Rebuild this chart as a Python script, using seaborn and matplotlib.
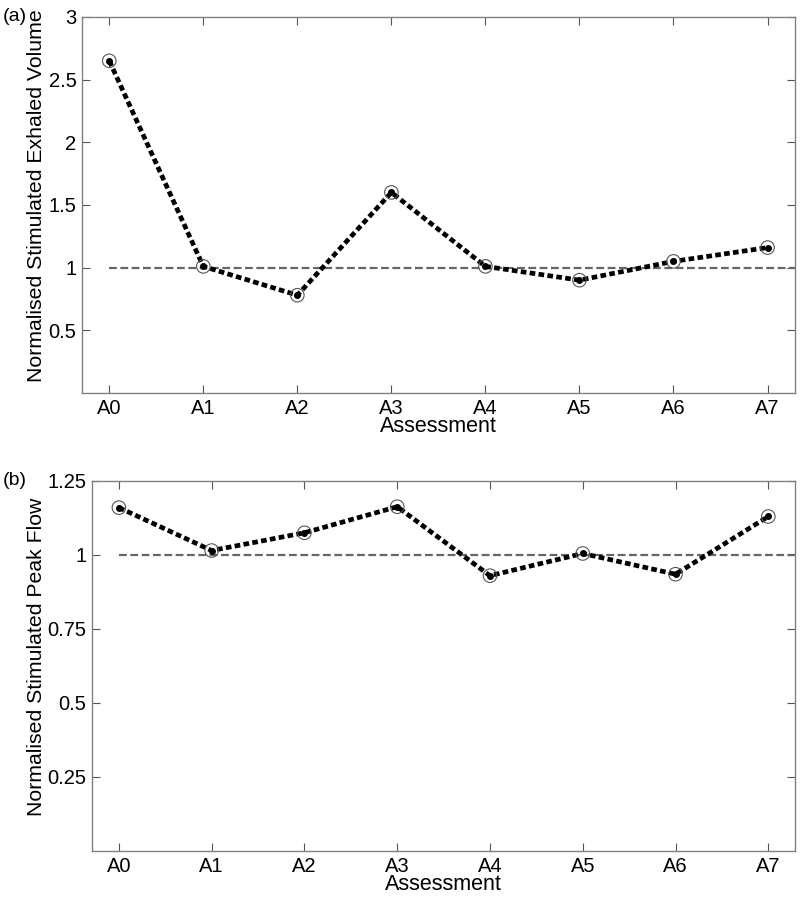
import numpy as np
import pandas as pd
import matplotlib
matplotlib.use("Agg")
import matplotlib.pyplot as plt
import seaborn as sns

assessments = ["A0", "A1", "A2", "A3", "A4", "A5", "A6", "A7"]
exhaled_volume = [2.65, 1.01, 0.78, 1.60, 1.01, 0.90, 1.05, 1.16]
peak_flow = [1.16, 1.015, 1.075, 1.163, 0.93, 1.005, 0.935, 1.13]

sns.set_style("white")
plt.rcParams['font.family'] = ['Liberation Sans', 'DejaVu Sans']
plt.rcParams['text.color'] = 'black'
plt.rcParams['axes.labelcolor'] = 'black'
plt.rcParams['xtick.color'] = 'black'
plt.rcParams['ytick.color'] = 'black'

fig = plt.figure(figsize=(8, 8.97), dpi=100)
ax1 = fig.add_axes([0.1025, 0.5619, 0.891, 0.4192])
ax2 = fig.add_axes([0.115, 0.0513, 0.879, 0.4125])

panels = [
    (ax1, exhaled_volume, "Normalised Stimulated Exhaled Volume", (0, 3), [0.5, 1, 1.5, 2, 2.5, 3], "(a)"),
    (ax2, peak_flow, "Normalised Stimulated Peak Flow", (0, 1.25), [0.25, 0.5, 0.75, 1, 1.25], "(b)"),
]

for ax, vals, ylab, ylim, yticks, tag in panels:
    df = pd.DataFrame({"x": np.arange(len(assessments)), "y": vals})
    ax.plot([0, 7.29], [1, 1], color="#666666", lw=1.6, dashes=(3.5, 1.6), zorder=1)
    sns.lineplot(data=df, x="x", y="y", ax=ax, color="black", lw=3.4, zorder=2)
    ax.lines[-1].set_dashes((1.2, 0.7))
    ax.scatter(df["x"], df["y"], s=95, facecolors="none", edgecolors="#555555", linewidths=0.8, zorder=3)
    ax.scatter(df["x"], df["y"], s=16, color="black", zorder=4)
    ax.set_xlim(-0.29, 7.29)
    ax.set_ylim(*ylim)
    ax.set_xticks(np.arange(len(assessments)))
    ax.set_xticklabels(assessments)
    ax.set_yticks(yticks)
    ax.set_yticklabels([f"{t:g}" for t in yticks])
    ax.set_xlabel("Assessment", fontsize=15.5, labelpad=-1)
    ax.set_ylabel(ylab, fontsize=15.3)
    ax.tick_params(direction="in", length=6, width=0.8, labelsize=14.5,
                   bottom=True, left=True, top=True, right=True, pad=4)
    ax.tick_params(color="#555555")
    for s in ax.spines.values():
        s.set_color("#808080")
        s.set_linewidth(1.0)
    pos = ax.get_position()
    # label x position in figure pixels -> axes fraction
    lx = (46 - pos.x0 * 800) / (pos.width * 800)
    ax.yaxis.set_label_coords(lx, 0.525)
    fig.text(0.003, pos.y1, tag, fontsize=14, va="center", ha="left")

fig.savefig("out.png", dpi=100)
